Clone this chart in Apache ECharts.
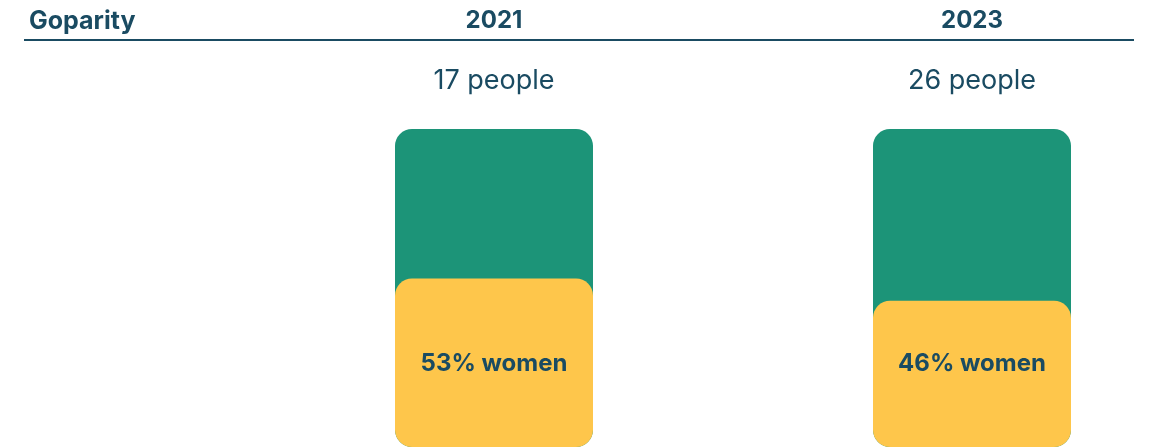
<!DOCTYPE html>
<html>
<head>
<meta charset="utf-8">
<script src="https://cdn.jsdelivr.net/npm/echarts@6/dist/echarts.min.js"></script>
<style>
  html, body { margin: 0; padding: 0; background: #fff; }
  #main { width: 1151px; height: 448px; }
</style>
</head>
<body>
<div id="main"></div>
<script>
// data
const years = ['2021', '2023'];
const peopleCount = [17, 26];
const womenShare = [53, 46];
const totalShare = [100, 100];

const ink = '#1a4b62';
const font = 'Inter';

const myChart = echarts.init(document.getElementById('main'));
const option = {
  backgroundColor: '#fff',
  animation: false,
  // no boundary gap: the two columns sit on the grid's edges (494 and 971)
  grid: { left: 494, right: 179, top: 129, bottom: 1 },
  xAxis: {
    type: 'category',
    data: years,
    boundaryGap: false,
    position: 'top',
    offset: 96,
    axisLine: { show: false },
    axisTick: { show: false },
    splitLine: { show: false },
    axisLabel: { color: ink, fontFamily: font, fontWeight: 'bold', fontSize: 24, margin: 0 }
  },
  yAxis: { type: 'value', min: 0, max: 100, show: false },
  graphic: [
    { type: 'text', left: 29, top: 9, style: { text: 'Goparity', fill: ink, font: 'bold 25px ' + font } },
    { type: 'rect', left: 24, top: 39, shape: { width: 1110, height: 2 }, style: { fill: ink } }
  ],
  series: [
    {
      type: 'bar',
      barWidth: 198,
      barGap: '-100%',
      data: totalShare,
      itemStyle: { color: '#1c9478', borderRadius: 17 },
      label: {
        show: true,
        position: 'top',
        distance: 35,
        color: ink,
        fontFamily: font,
        fontSize: 27,
        formatter: (p) => peopleCount[p.dataIndex] + ' people'
      }
    },
    {
      type: 'bar',
      barWidth: 198,
      barGap: '-100%',
      data: womenShare,
      itemStyle: { color: '#fec64b', borderRadius: 17 },
      label: {
        show: true,
        position: 'insideBottom',
        distance: 71,
        color: ink,
        fontFamily: font,
        fontWeight: 'bold',
        fontSize: 24,
        formatter: (p) => p.value + '% women'
      }
    }
  ]
};
myChart.setOption(option);
</script>
</body>
</html>
